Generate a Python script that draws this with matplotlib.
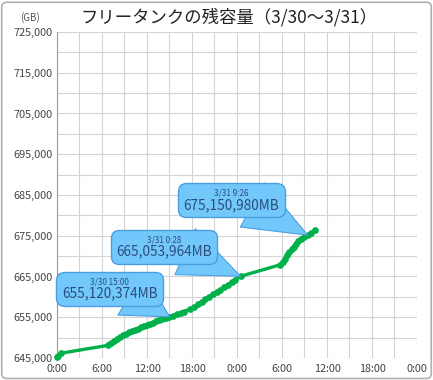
import matplotlib
matplotlib.use('Agg')
import matplotlib.pyplot as plt
from matplotlib.offsetbox import AnnotationBbox, TextArea, VPacker
from matplotlib.patches import FancyBboxPatch
from matplotlib.ticker import MultipleLocator, FuncFormatter

plt.rcParams['font.family'] = ['Noto Sans CJK JP', 'DejaVu Sans']

# hours since 3/30 0:00, remaining capacity in GB
hours = [0.0, 0.2, 0.6, 6.8, 7.2, 7.6, 8.0, 8.4, 8.8, 9.2, 9.6, 10.0, 10.4,
         10.8, 11.2, 11.6, 12.0, 12.4, 12.8, 13.2, 13.6, 14.0, 14.5, 15.0,
         15.5, 16.0, 16.5, 17.0, 17.8, 18.3, 18.8, 19.3, 19.8, 20.3, 20.8,
         21.3, 21.8, 22.3, 22.8, 23.3, 23.8, 24.47, 29.8, 30.1, 30.4, 30.7,
         31.0, 31.3, 31.6, 31.9, 32.2, 32.5, 32.9, 33.43, 33.9, 34.4]
capacity = [645300, 645600, 646200, 648100, 648600, 649200, 649700, 650200,
            650600, 651000, 651300, 651600, 651900, 652200, 652500, 652800,
            653100, 653400, 653700, 654000, 654300, 654600, 654900, 655120,
            655400, 655700, 656000, 656400, 657100, 657600, 658200, 658800,
            659400, 660000, 660600, 661200, 661800, 662400, 663000, 663600,
            664200, 665054, 667900, 668600, 669400, 670200, 671000, 671700,
            672300, 673000, 673600, 674100, 674600, 675151, 675700, 676400]

# callouts: (hour, GB, date label, value label)
notes = [(15.0, 655120, '3/30 15:00', '655,120,374MB'),
         (24.47, 665054, '3/31 0:28', '665,053,964MB'),
         (33.43, 675151, '3/31 9:26', '675,150,980MB')]
note_offsets = [(-43, 20), (-55, 21), (-55, 25)]

yticks = [645000, 655000, 665000, 675000, 685000, 695000, 705000, 715000, 725000]
xticks = [0, 6, 12, 18, 24, 30, 36, 42, 48]
xlabels = ['0:00', '6:00', '12:00', '18:00', '0:00', '6:00', '12:00', '18:00', '0:00']

fig = plt.figure(figsize=(4.33, 3.80), dpi=100)
fig.patches.append(FancyBboxPatch((0.004, 0.004), 0.992, 0.99,
                                  boxstyle='round,pad=0,rounding_size=0.012',
                                  transform=fig.transFigure, fc='none',
                                  ec='#b0b0b0', lw=1.2))
ax = fig.add_axes([0.1316, 0.0579, 0.8314, 0.8579])

ax.plot(hours, capacity, color='#00b04a', lw=2.4, marker='o', ms=3.8,
        mec='#00b04a', mfc='#00b04a', zorder=3, clip_on=False)

ax.set_xlim(0, 48)
ax.set_ylim(645000, 725000)
ax.set_xticks(xticks)
ax.set_xticklabels(xlabels)
ax.set_yticks(yticks)
ax.xaxis.set_minor_locator(MultipleLocator(3))
ax.yaxis.set_minor_locator(MultipleLocator(5000))
ax.yaxis.set_major_formatter(FuncFormatter(lambda v, p: f'{int(v):,}'))
ax.grid(which='both', color='#d4d4d4', lw=0.8)
ax.set_axisbelow(True)
ax.tick_params(which='both', length=0, labelsize=7.8, colors='#444444', pad=3)
ax.tick_params(axis='x', pad=4)
for s in ['top', 'right', 'bottom']:
    ax.spines[s].set_visible(False)
ax.spines['left'].set_color('#999999')

for (t, v, d, val), off in zip(notes, note_offsets):
    box = VPacker(children=[TextArea(d, textprops=dict(fontsize=5.8, color='#2c4c7e')),
                            TextArea(val, textprops=dict(fontsize=9.8, color='#2c4c7e'))],
                  align='center', pad=0, sep=0)
    ab = AnnotationBbox(box, (t, v), xybox=off, xycoords='data',
                        boxcoords='offset points',
                        bboxprops=dict(boxstyle='round,pad=0.4,rounding_size=0.6',
                                       fc='#72c8fb', ec='#4a9ee0', lw=1),
                        arrowprops=dict(arrowstyle='wedge,tail_width=1.0,shrink_factor=0.5',
                                        mutation_scale=26,
                                        fc='#72c8fb', ec='#4a9ee0', lw=0.8,
                                        patchA=None, relpos=(0.72, 0.3),
                                        shrinkA=0, shrinkB=0))
    ax.add_artist(ab)

fig.text(0.53, 0.955, 'フリータンクの残容量（3/30～3/31）', ha='center', va='center',
         fontsize=12.5, color='#222222')
fig.text(0.07, 0.955, '(GB)', ha='center', va='center', fontsize=7, color='#555555')

fig.savefig('out.png', dpi=100)
